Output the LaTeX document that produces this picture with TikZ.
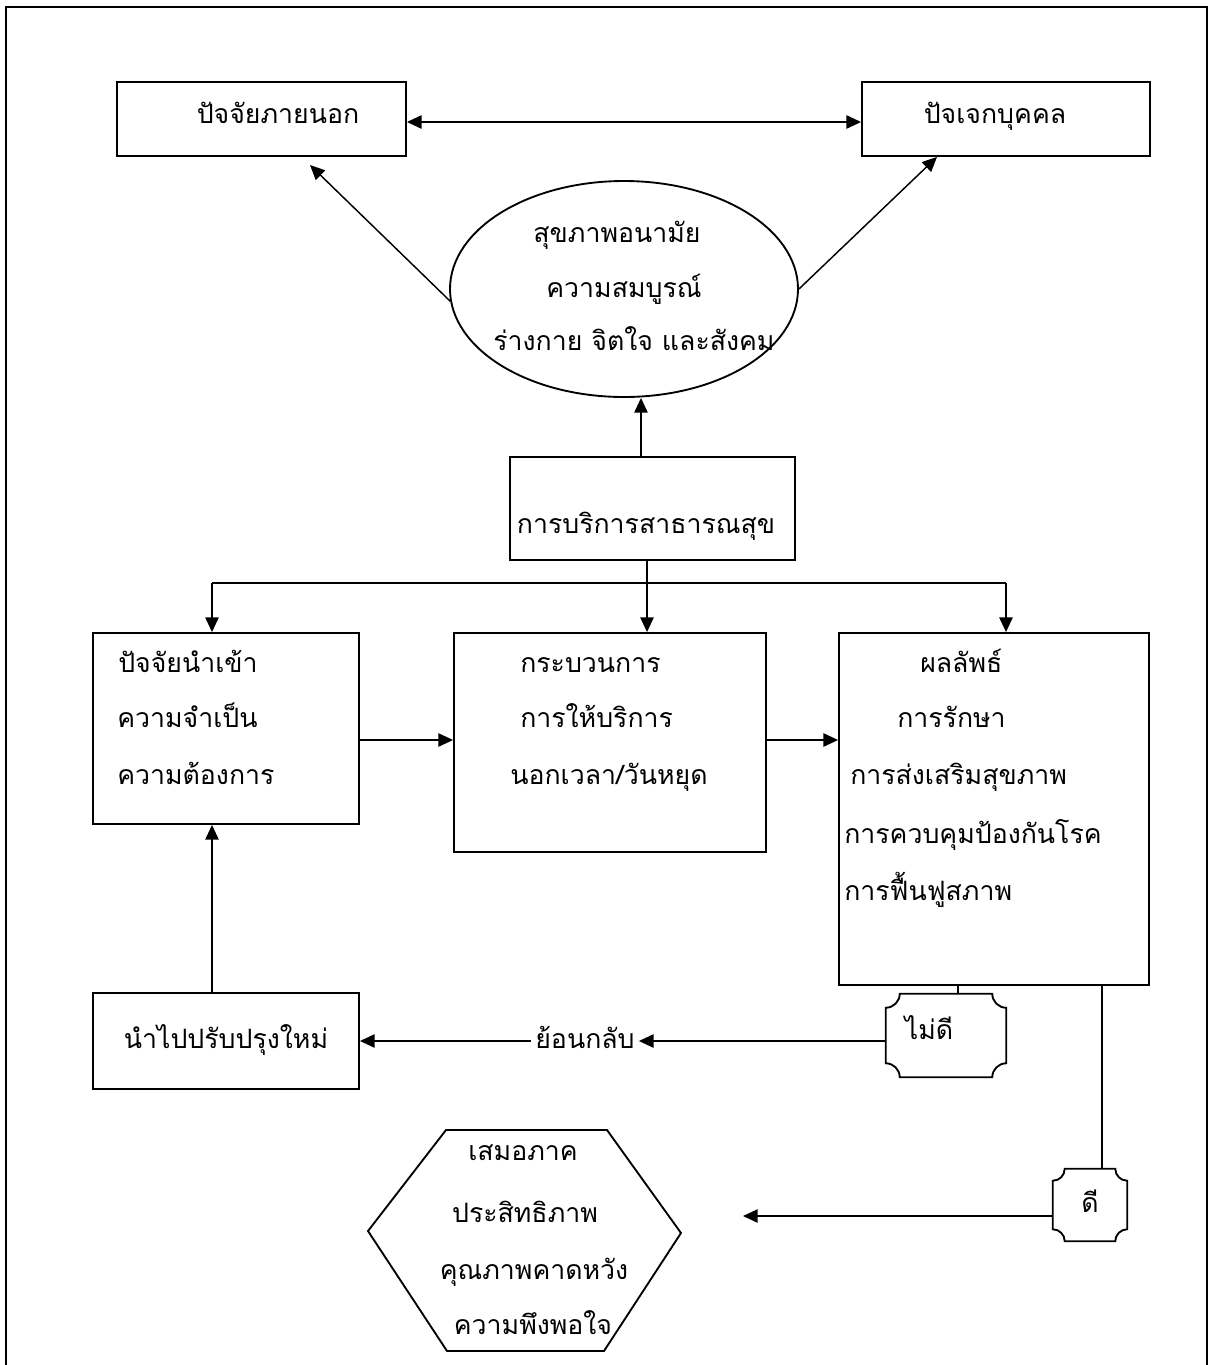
\documentclass[tikz,border=0pt]{standalone}
\usepackage{fontspec}
\newfontfamily\thaifont[Script=Thai]{Loma}
\usetikzlibrary{arrows.meta,calc,shapes.geometric}
\begin{document}
\begin{tikzpicture}[x=0.75pt,y=-0.75pt,
  box/.style={draw,line width=1.4pt,rectangle,inner sep=0pt},
  sz/.style 2 args={minimum width=#1*0.75pt,minimum height=#2*0.75pt},
  conn/.style={line width=1.1pt},
  arr/.style={conn,-{Triangle[length=11pt,width=10pt]}},
  darr/.style={conn,{Triangle[length=11pt,width=10pt]}-{Triangle[length=11pt,width=10pt]}},
  txt/.style={inner sep=0pt,text height=11pt,text depth=0pt,font=\thaifont\fontsize{20}{24}\selectfont},
]
\useasboundingbox (0,0) rectangle (1216,1365);
% frame, open at the foot of the page
\draw[line width=1.5pt] (6,1365) -- (6,7) -- (1207,7) -- (1207,1365);

% top row
\node[box,sz={289}{74}] (ext) at (261.5,119) {};
\node[txt] (extT) at (278,116) {ปัจจัยภายนอก};
\node[box,sz={288}{74}] (ind) at (1006,119) {};
\node[txt] (indT) at (995,116) {ปัจเจกบุคคล};
\draw[darr] (ext.east |- 0,122) -- (ind.west |- 0,122);

% ellipse
\node[draw,ellipse,line width=1.4pt,inner sep=0pt,sz={348}{216}] (ell) at (624,289) {};
\node[txt] (ell1) at (617,235) {สุขภาพอนามัย};
\node[txt] (ell2) at (624,290) {ความสมบูรณ์};
\node[txt] (ell3) at (634,343) {ร่างกาย จิตใจ และสังคม};
\coordinate (tipL) at (310,165);
\draw[arr] (ell.184) -- (tipL);
\draw[arr] (ell.0) -- (ind.south -| 937,0);

% public health service
\node[box,sz={285}{103}] (svc) at (652.5,508.5) {};
\node[txt] (svcT) at (646,526) {การบริการสาธารณสุข};
\draw[arr] (svc.north -| 641,0) -- (ell.south -| 641,0);

% distribution bus
\coordinate (bus) at (647,583);
\draw[conn] (svc.south -| bus) -- (bus);
\draw[conn] (bus) -- (212,583);
\draw[conn] (bus) -- (1006,583);

% middle row
\node[box,sz={266}{191}] (inp) at (226,728.5) {};
\node[box,sz={312}{219}] (proc) at (610,742.5) {};
\node[box,sz={310}{352}] (outc) at (994,809) {};
\draw[arr] (bus) -- (bus |- proc.north);
\draw[arr] (212,583) -- (inp.north -| 212,0);
\draw[arr] (1006,583) -- (outc.north -| 1006,0);

\node[txt,anchor=west] (inp1) at (118,665) {ปัจจัยนำเข้า};
\node[txt,anchor=west] (inp2) at (117,720) {ความจำเป็น};
\node[txt,anchor=west] (inp3) at (117,777) {ความต้องการ};

\node[txt,anchor=west] (proc1) at (520,665) {กระบวนการ};
\node[txt,anchor=west] (proc2) at (520,720) {การให้บริการ};
\node[txt,anchor=west] (proc3) at (510,777) {นอกเวลา/วันหยุด};

\node[txt,anchor=west] (out1) at (920,665) {ผลลัพธ์};
\node[txt,anchor=west] (out2) at (897,720) {การรักษา};
\node[txt,anchor=west] (out3) at (850,777) {การส่งเสริมสุขภาพ};
\node[txt,anchor=west] (out4) at (844,836) {การควบคุมป้องกันโรค};
\node[txt,anchor=west] (out5) at (844,893) {การฟื้นฟูสภาพ};

\draw[arr] (inp.east |- 0,740) -- (proc.west |- 0,740);
\draw[arr] (proc.east |- 0,740) -- (outc.west |- 0,740);

% feedback loop
\node[box,sz={266}{96}] (imp) at (226,1041) {};
\node[txt] (impT) at (226,1041) {นำไปปรับปรุงใหม่};
\draw[arr] (imp.north -| 212,0) -- (inp.south -| 212,0);

\node[inner sep=0pt,sz={120}{83}] (bad) at (946,1035.5) {};
\draw[line width=1.4pt] let \p1=(bad.north west), \p2=(bad.south east),
  \n1={10.5pt}, \n2={0.552*10.5pt} in
  ({\x1+\n1},\y1) -- ({\x2-\n1},\y1)
  .. controls ({\x2-\n1},{\y1-\n2}) and ({\x2-\n2},{\y1-\n1}) .. (\x2,{\y1-\n1})
  -- (\x2,{\y2+\n1})
  .. controls ({\x2-\n2},{\y2+\n1}) and ({\x2-\n1},{\y2+\n2}) .. ({\x2-\n1},\y2)
  -- ({\x1+\n1},\y2)
  .. controls ({\x1+\n1},{\y2+\n2}) and ({\x1+\n2},{\y2+\n1}) .. (\x1,{\y2+\n1})
  -- (\x1,{\y1-\n1})
  .. controls ({\x1+\n2},{\y1-\n1}) and ({\x1+\n1},{\y1-\n2}) .. ({\x1+\n1},\y1)
  -- cycle;
\node[txt] (badT) at (929,1032) {ไม่ดี};
\node[txt,inner xsep=3pt] (back) at (585,1041) {ย้อนกลับ};
\draw[conn] (outc.south -| 958,0) -- (bad.north -| 958,0);
\draw[arr] (bad.west |- back) -- (back.east);
\draw[arr] (back.west) -- (imp.east);

\node[inner sep=0pt,sz={74}{72}] (good) at (1090,1205) {};
\draw[line width=1.4pt] let \p1=(good.north west), \p2=(good.south east),
  \n1={9pt}, \n2={0.552*9pt} in
  ({\x1+\n1},\y1) -- ({\x2-\n1},\y1)
  .. controls ({\x2-\n1},{\y1-\n2}) and ({\x2-\n2},{\y1-\n1}) .. (\x2,{\y1-\n1})
  -- (\x2,{\y2+\n1})
  .. controls ({\x2-\n2},{\y2+\n1}) and ({\x2-\n1},{\y2+\n2}) .. ({\x2-\n1},\y2)
  -- ({\x1+\n1},\y2)
  .. controls ({\x1+\n1},{\y2+\n2}) and ({\x1+\n2},{\y2+\n1}) .. (\x1,{\y2+\n1})
  -- (\x1,{\y1-\n1})
  .. controls ({\x1+\n2},{\y1-\n1}) and ({\x1+\n1},{\y1-\n2}) .. ({\x1+\n1},\y1)
  -- cycle;
\node[txt] (goodT) at (1090,1205) {ดี};
\draw[conn] (outc.south -| 1102,0) -- (good.north -| 1102,0);
\coordinate (hexTip) at (743,1216);
\draw[arr] (good.west |- hexTip) -- (hexTip);

% hexagon of outcomes
\coordinate (h1) at (446,1130);
\coordinate (h2) at (607,1130);
\coordinate (h3) at (681,1233);
\coordinate (h4) at (604,1351);
\coordinate (h5) at (447,1351);
\coordinate (h6) at (368,1231);
\draw[line width=1.4pt] (h1) -- (h2) -- (h3) -- (h4) -- (h5) -- (h6) -- cycle;
\node[txt] (hx1) at (523,1153) {เสมอภาค};
\node[txt] (hx2) at (525,1215) {ประสิทธิภาพ};
\node[txt] (hx3) at (534,1272) {คุณภาพคาดหวัง};
\node[txt] (hx4) at (533,1327) {ความพึงพอใจ};
\end{tikzpicture}
\end{document}
